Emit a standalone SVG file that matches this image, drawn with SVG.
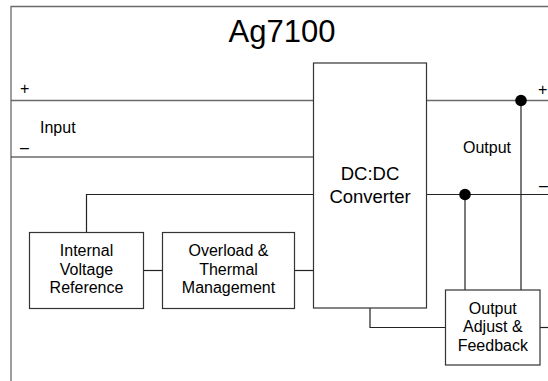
<svg xmlns="http://www.w3.org/2000/svg" width="548" height="381" viewBox="0 0 548 381">
<style>
.t{font-family:"Liberation Sans",Arial,sans-serif;font-size:16px;fill:#000}
.c{text-anchor:middle}
.box{fill:#fff;stroke:#333;stroke-width:1.2}
.w{fill:none;stroke:#222;stroke-width:1.2}
.g{fill:none;stroke:#6a6a6a;stroke-width:1.3}
.dot{fill:#000}
</style>
<rect width="548" height="381" fill="#fff"/>
<g id="frame">
<path class="g" d="M11,381 V6.5 H548"/>
<text class="t c" x="282" y="42" style="font-size:31px">Ag7100</text>
</g>
<g id="connectors">
<path class="g" d="M11,100.5 H313.5"/>
<path class="w" d="M11,157 H313.5"/>
<path class="g" d="M426.5,100.5 H548"/>
<path class="w" d="M426.5,194.5 H548"/>
<path class="w" d="M313.5,194.5 H86.5 V232.5"/>
<path class="w" d="M143.5,270.5 H162.5"/>
<path class="w" d="M294.5,270.5 H313.5"/>
<path class="w" d="M370,308 V327.5 H445.5"/>
<path class="w" d="M540,327.5 H548"/>
<path class="w" d="M521,100.5 V290"/>
<path class="w" d="M465,194.5 V290"/>
<circle class="dot" cx="521" cy="100.5" r="5.8"/>
<circle class="dot" cx="465" cy="194.5" r="5.8"/>
</g>
<g id="labels">
<text class="t" x="20" y="94">+</text>
<text class="t" x="20" y="153">–</text>
<text class="t" x="40" y="133">Input</text>
<text class="t" x="538" y="95">+</text>
<text class="t" x="539" y="191">–</text>
<text class="t" x="463" y="152.5">Output</text>
</g>
<g id="dcdc">
<rect class="box" x="313.5" y="63" width="113" height="245"/>
<text class="t c" x="370" y="180" style="font-size:18.5px">DC:DC</text>
<text class="t c" x="370" y="203" style="font-size:18.5px">Converter</text>
</g>
<g id="ivr">
<rect class="box" x="29.5" y="232.5" width="114" height="76"/>
<text class="t c" x="86.5" y="256">Internal</text>
<text class="t c" x="86.5" y="274.5">Voltage</text>
<text class="t c" x="86.5" y="293">Reference</text>
</g>
<g id="overload">
<rect class="box" x="162.5" y="232.5" width="132" height="76"/>
<text class="t c" x="228.5" y="256">Overload &amp;</text>
<text class="t c" x="228.5" y="274.5">Thermal</text>
<text class="t c" x="228.5" y="293">Management</text>
</g>
<g id="adjust">
<rect class="box" x="445.5" y="290" width="94.5" height="75"/>
<text class="t c" x="492.8" y="313.5">Output</text>
<text class="t c" x="492.8" y="332">Adjust &amp;</text>
<text class="t c" x="492.8" y="350.5">Feedback</text>
</g>
</svg>
